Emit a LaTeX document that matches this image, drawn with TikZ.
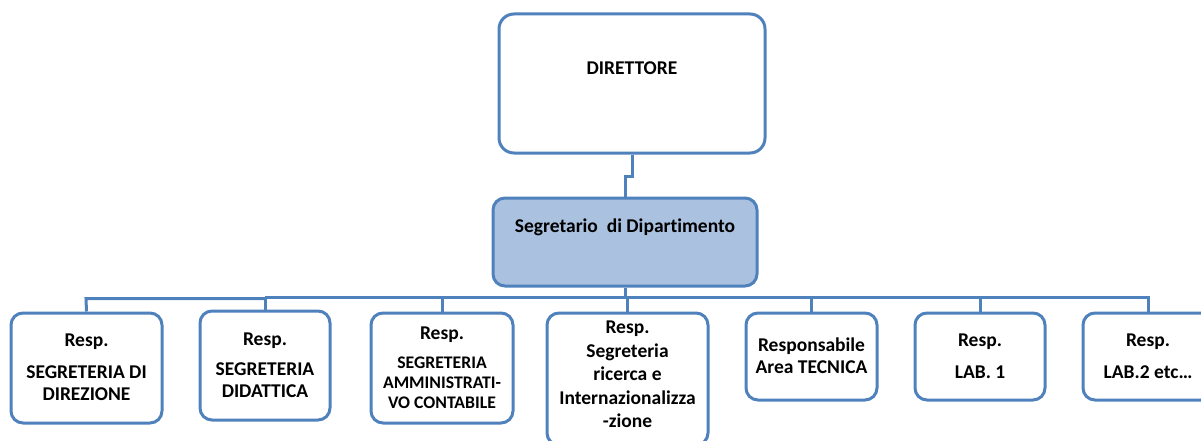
\documentclass[tikz,border=0pt]{standalone}
\usepackage{fontspec}
\setmainfont{Carlito}[Ligatures=NoCommon]
\begin{document}
\begin{tikzpicture}[x=1pt,y=-1pt,
  box/.style={draw=orgblue,line width=3pt,rounded corners=12pt,fill=white,inner sep=0pt},
  conn/.style={draw=orgblue,line width=3pt},
  txt/.style={font=\fontsize{19.5}{21.5}\selectfont\bfseries,align=center,inner sep=0pt,text=black},
  stxt/.style={font=\fontsize{17.7}{20}\selectfont\bfseries,align=center,inner sep=0pt,text=black}]
\definecolor{orgblue}{RGB}{79,129,189}
\definecolor{segfill}{RGB}{170,193,224}
\useasboundingbox (0,0) rectangle (1201,441);
\clip (0,0) rectangle (1201,441);
\node[box,rounded corners=15pt,minimum width=266pt,minimum height=139pt] (dir) at (632,83.5) {};
\node[box,fill=segfill,minimum width=264pt,minimum height=88pt] (seg) at (625,242) {};
\node[box,minimum width=151pt,minimum height=110pt] (b1) at (86.5,368) {};
\node[box,minimum width=130pt,minimum height=109pt] (b2) at (265,365.5) {};
\node[box,minimum width=142pt,minimum height=110pt] (b3) at (442,368) {};
\node[box,minimum width=161pt,minimum height=132pt] (b4) at (627.5,379) {};
\node[box,minimum width=131pt,minimum height=87pt] (b5) at (811.5,356.5) {};
\node[box,minimum width=130pt,minimum height=87pt] (b6) at (980,356.5) {};
\node[box,minimum width=130pt,minimum height=87pt] (b7) at (1148,356.5) {};
% connectors
\coordinate (j1) at (632,176);
\coordinate (j2) at (625,176);
\draw[conn] (dir.south -| j1) -- (j1) -- (j2) -- (seg.north -| j2);
\coordinate (bus) at (625,297);
\draw[conn] (seg.south) -- (bus) -- (bus -| b4.north) -- (b4.north);
\draw[conn] (b1.north) -- (86,298.5) -- (265,298.5);
\draw[conn] (265,297) -| (b7.north);
\draw[conn] (b2.north) -- (b2.north |- bus);
\draw[conn] (b3.north) -- (b3.north |- bus);
\draw[conn] (b5.north) -- (b5.north |- bus);
\draw[conn] (b6.north) -- (b6.north |- bus);
% texts
\node[txt] (tdir) at (632,68) {DIRETTORE};
\node[txt] (tseg) at (625,227) {Segretario\ \ di Dipartimento};
\node[txt] (t1a) at (86.5,342) {Resp.};
\node[txt] (t1b) at (86.5,383) {SEGRETERIA DI\\DIREZIONE};
\node[txt] (t2a) at (265,341) {Resp.};
\node[txt] (t2b) at (265,380) {SEGRETERIA\\DIDATTICA};
\node[txt] (t3a) at (442,335) {Resp.};
\node[stxt] (t3b) at (442,383) {SEGRETERIA\\AMMINISTRATI-\\VO CONTABILE};
\node[txt,font=\fontsize{19.5}{23.5}\selectfont\bfseries] (t4) at (627.5,374.5) {Resp.\\Segreteria\\ricerca e\\Internazionalizza\\-zione};
\node[txt] (t5) at (811.5,355.5) {Responsabile\\Area TECNICA};
\node[txt] (t6a) at (980,342) {Resp.};
\node[txt] (t6b) at (980,372) {LAB. 1};
\node[txt] (t7a) at (1148,342) {Resp.};
\node[txt] (t7b) at (1148,372) {LAB.2 etc…};
\end{tikzpicture}
\end{document}
